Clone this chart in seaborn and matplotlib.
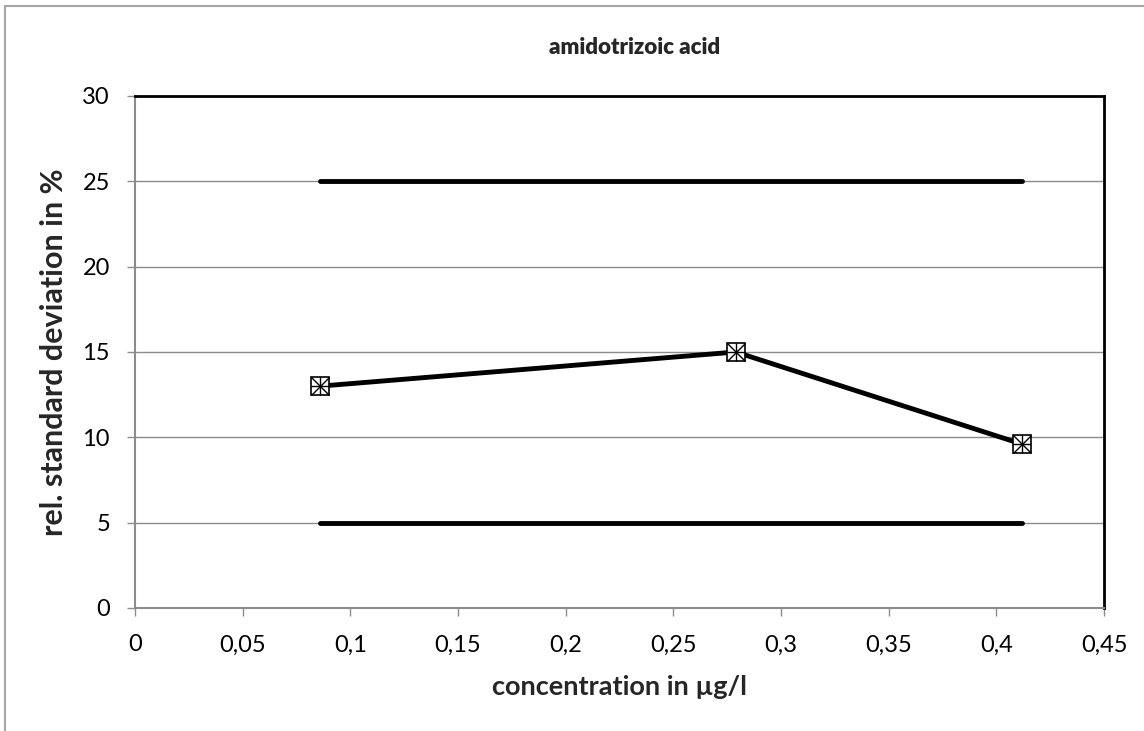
import matplotlib
matplotlib.use("Agg")
import matplotlib.pyplot as plt
import seaborn as sns
import pandas as pd
from matplotlib.lines import Line2D
from matplotlib.ticker import FuncFormatter, MultipleLocator

sns.set_theme(style="white")
plt.rcParams['font.family'] = ['Lato', 'DejaVu Sans']

# Data
concentration = [0.086, 0.279, 0.412]
rsd = [13.0, 15.0, 9.6]
limit_x = [0.086, 0.412]
upper_limit = [25, 25]
lower_limit = [5, 5]

title = "amidotrizoic acid"
xlabel = "concentration in µg/l"
ylabel = "rel. standard deviation in %"

fig = plt.figure(figsize=(11.44, 7.31), dpi=100)
ax = fig.add_axes([135/1144, 1 - 608/731, (1104-135)/1144, (608-96)/731])

df = pd.DataFrame({"x": concentration, "y": rsd})
df_up = pd.DataFrame({"x": limit_x, "y": upper_limit})
df_lo = pd.DataFrame({"x": limit_x, "y": lower_limit})

ax.yaxis.grid(True, color="#8c8c8c", linewidth=1)
ax.set_axisbelow(True)

sns.lineplot(data=df_up, x="x", y="y", ax=ax, color="black", linewidth=3.5, zorder=3)
sns.lineplot(data=df_lo, x="x", y="y", ax=ax, color="black", linewidth=3.5, zorder=3)
sns.lineplot(data=df, x="x", y="y", ax=ax, color="black", linewidth=3.5, zorder=3)
# Excel-style marker: square with X and +
ax.plot(concentration, rsd, linestyle="none", marker="s", markersize=12.5,
        markerfacecolor="white", markeredgecolor="black", markeredgewidth=1.2, zorder=4)
ax.plot(concentration, rsd, linestyle="none", marker="x", markersize=12.5,
        markeredgecolor="black", markeredgewidth=1.0, zorder=5)
ax.plot(concentration, rsd, linestyle="none", marker="+", markersize=12.5,
        markeredgecolor="black", markeredgewidth=1.0, zorder=5)

ax.set_xlim(0, 0.45)
ax.set_ylim(0, 30)
ax.xaxis.set_major_locator(MultipleLocator(0.05))
ax.yaxis.set_major_locator(MultipleLocator(5))

def fmt(v, pos):
    s = ("%.2f" % v).rstrip("0").rstrip(".")
    return s.replace(".", ",")
ax.xaxis.set_major_formatter(FuncFormatter(fmt))
ax.yaxis.set_major_formatter(FuncFormatter(lambda v, p: "%d" % v))

ax.tick_params(axis="both", which="both", direction="out", length=6, width=1,
               color="#8c8c8c", labelsize=17, labelcolor="black",
               bottom=True, left=True)
ax.tick_params(axis="y", pad=12)
ax.tick_params(axis="x", pad=13)

for side in ["top", "right"]:
    ax.spines[side].set_color("black")
    ax.spines[side].set_linewidth(2)
for side in ["left", "bottom"]:
    ax.spines[side].set_color("#8c8c8c")
    ax.spines[side].set_linewidth(1.5)

ax.set_xlabel(xlabel, fontsize=19.5, fontweight="bold", labelpad=14)
ax.set_ylabel(ylabel, fontsize=22, fontweight="bold", labelpad=10)
fig.text(635/1144, 1 - 47/731, title, ha="center", va="center",
         fontsize=16, fontweight="heavy")

# outer chart border (left and top visible)
fig.add_artist(Line2D([5/1144, 5/1144], [0, 1 - 6/731], transform=fig.transFigure,
                      color="#a6a6a6", linewidth=1.5))
fig.add_artist(Line2D([5/1144, 1], [1 - 6/731, 1 - 6/731], transform=fig.transFigure,
                      color="#a6a6a6", linewidth=1.5))

fig.savefig("out.png", dpi=100)
